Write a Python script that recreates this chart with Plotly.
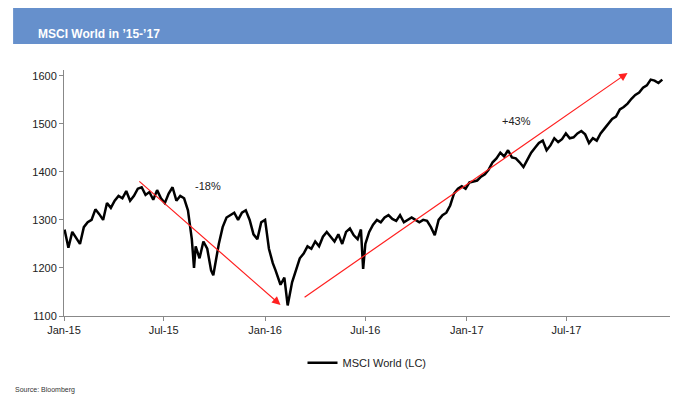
import plotly.graph_objects as go

dates = ["2015-01-02", "2015-01-09", "2015-01-16", "2015-01-23", "2015-01-30", "2015-02-06", "2015-02-13",
         "2015-02-20", "2015-02-27", "2015-03-06", "2015-03-13", "2015-03-20", "2015-03-27", "2015-04-03",
         "2015-04-10", "2015-04-17", "2015-04-24", "2015-05-01", "2015-05-08", "2015-05-15", "2015-05-22",
         "2015-05-29", "2015-06-05", "2015-06-12", "2015-06-19", "2015-06-26", "2015-07-03", "2015-07-10",
         "2015-07-17", "2015-07-24", "2015-07-31", "2015-08-07", "2015-08-14", "2015-08-21", "2015-08-25",
         "2015-08-28", "2015-09-04", "2015-09-11", "2015-09-18", "2015-09-25", "2015-09-29", "2015-10-09",
         "2015-10-16", "2015-10-23", "2015-10-30", "2015-11-06", "2015-11-13", "2015-11-20", "2015-11-27",
         "2015-12-04", "2015-12-11", "2015-12-18", "2015-12-25", "2016-01-01", "2016-01-08", "2016-01-15",
         "2016-01-20", "2016-01-29", "2016-02-05", "2016-02-11", "2016-02-19", "2016-02-26", "2016-03-04",
         "2016-03-11", "2016-03-18", "2016-03-25", "2016-04-01", "2016-04-08", "2016-04-15", "2016-04-22",
         "2016-04-29", "2016-05-06", "2016-05-13", "2016-05-20", "2016-05-27", "2016-06-03", "2016-06-10",
         "2016-06-17", "2016-06-23", "2016-06-27", "2016-07-01", "2016-07-08", "2016-07-15", "2016-07-22",
         "2016-07-29", "2016-08-05", "2016-08-12", "2016-08-19", "2016-08-26", "2016-09-02", "2016-09-09",
         "2016-09-16", "2016-09-23", "2016-09-30", "2016-10-07", "2016-10-14", "2016-10-21", "2016-10-28",
         "2016-11-04", "2016-11-11", "2016-11-18", "2016-11-25", "2016-12-02", "2016-12-09", "2016-12-16",
         "2016-12-23", "2016-12-30", "2017-01-06", "2017-01-13", "2017-01-20", "2017-01-27", "2017-02-03",
         "2017-02-10", "2017-02-17", "2017-02-24", "2017-03-03", "2017-03-10", "2017-03-17", "2017-03-24",
         "2017-03-31", "2017-04-07", "2017-04-14", "2017-04-21", "2017-04-28", "2017-05-05", "2017-05-12",
         "2017-05-19", "2017-05-26", "2017-06-02", "2017-06-09", "2017-06-16", "2017-06-23", "2017-06-30",
         "2017-07-07", "2017-07-14", "2017-07-21", "2017-07-28", "2017-08-04", "2017-08-11", "2017-08-18",
         "2017-08-25", "2017-09-01", "2017-09-08", "2017-09-15", "2017-09-22", "2017-09-29", "2017-10-06",
         "2017-10-13", "2017-10-20", "2017-10-27", "2017-11-03", "2017-11-10", "2017-11-17", "2017-11-24",
         "2017-12-01", "2017-12-08", "2017-12-15", "2017-12-22"]
values = [1280, 1242, 1275, 1262, 1250, 1285, 1295, 1300, 1322, 1312, 1300, 1335, 1325, 1340,
          1350, 1345, 1360, 1340, 1350, 1365, 1368, 1352, 1358, 1342, 1362, 1345, 1335, 1355,
          1368, 1340, 1350, 1345, 1320, 1260, 1200, 1245, 1220, 1255, 1240, 1195, 1185, 1250,
          1285, 1305, 1310, 1315, 1300, 1315, 1320, 1300, 1270, 1260, 1295, 1300, 1240, 1210,
          1195, 1165, 1180, 1122, 1170, 1195, 1220, 1230, 1245, 1240, 1255, 1245, 1265, 1275,
          1265, 1255, 1270, 1250, 1275, 1282, 1268, 1260, 1280, 1198, 1250, 1275, 1290, 1300,
          1295, 1305, 1310, 1302, 1298, 1310, 1295, 1300, 1305, 1300, 1295, 1300, 1298, 1285,
          1268, 1300, 1310, 1315, 1330, 1355, 1365, 1370, 1365, 1378, 1380, 1382, 1390, 1395,
          1405, 1420, 1428, 1440, 1432, 1445, 1430, 1428, 1420, 1410, 1425, 1440, 1450, 1460,
          1465, 1445, 1455, 1470, 1462, 1468, 1480, 1470, 1472, 1480, 1485, 1478, 1460, 1470,
          1465, 1480, 1490, 1500, 1510, 1515, 1530, 1535, 1542, 1552, 1560, 1565, 1575, 1580,
          1592, 1590, 1585, 1592, 1590, 1584]

fig = go.Figure()
fig.add_trace(go.Scatter(x=dates, y=values, mode="lines", name="MSCI World (LC)",
                         line=dict(color="black", width=2.5)))

arrows = [("2016-01-29", 1123, "2015-05-15", 1383), ("2017-10-20", 1606, "2016-03-10", 1137)]
for x1, y1, x0, y0 in arrows:
    fig.add_annotation(x=x1, y=y1, ax=x0, ay=y0, xref="x", yref="y", axref="x", ayref="y",
                       showarrow=True, arrowhead=2, arrowsize=1.4, arrowwidth=1.2,
                       arrowcolor="#ff2020", text="")
fig.add_annotation(x="2015-09-20", y=1370, text="-18%", showarrow=False,
                   font=dict(size=11, color="#222"))
fig.add_annotation(x="2017-04-01", y=1505, text="+43%", showarrow=False,
                   font=dict(size=11, color="#222"))

# title bar and source
fig.add_shape(type="rect", xref="paper", yref="paper", x0=-0.084, x1=1.013, y0=1.106, y1=1.256,
              fillcolor="#6690cc", line_width=0, layer="below")
fig.add_annotation(xref="paper", yref="paper", x=-0.046, y=1.181, xanchor="left", showarrow=False,
                   text="<b>MSCI World in ’15-’17</b>", font=dict(size=12, color="white"))
fig.add_annotation(xref="paper", yref="paper", x=-0.084, y=-0.325, xanchor="left", showarrow=False,
                   text="Source: Bloomberg", font=dict(size=7, color="#333"))

fig.update_layout(
    width=680, height=401, margin=dict(l=56, r=18, t=62, b=93, autoexpand=False),
    plot_bgcolor="white", paper_bgcolor="white",
    font=dict(family="Liberation Sans, Arial", size=11, color="#222"),
    showlegend=True,
    legend=dict(orientation="h", x=0.5, xanchor="center", y=-0.19, yanchor="middle",
                font=dict(size=11)),
    xaxis=dict(range=["2015-01-01", "2018-01-05"], tickvals=["2015-01-01", "2015-07-01", "2016-01-01",
               "2016-07-01", "2017-01-01", "2017-07-01"],
               ticktext=["Jan-15", "Jul-15", "Jan-16", "Jul-16", "Jan-17", "Jul-17"],
               showgrid=False, showline=True, linecolor="#888", ticks="outside", ticklen=4,
               tickcolor="#888", automargin=False),
    yaxis=dict(range=[1100, 1612], tickvals=[1100, 1200, 1300, 1400, 1500, 1600],
               showgrid=False, showline=True, linecolor="#888", ticks="outside", ticklen=4,
               tickcolor="#888", zeroline=False, automargin=False),
)
fig.write_html("out.html")
